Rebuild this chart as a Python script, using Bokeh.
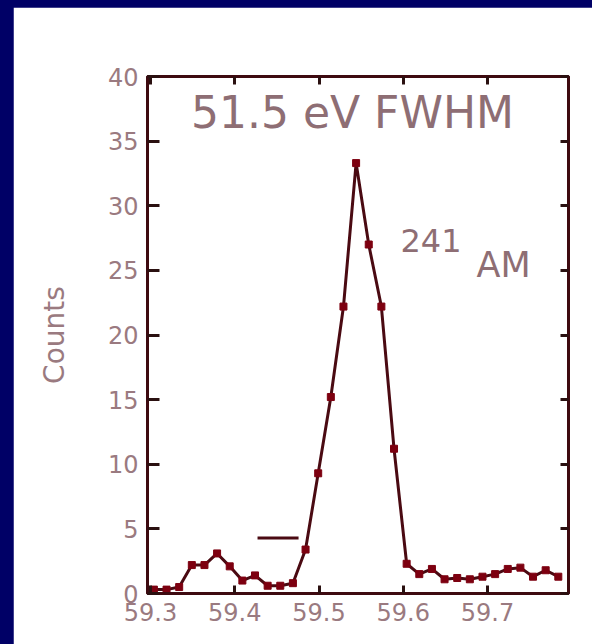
from bokeh.plotting import figure
from bokeh.models import Range1d, FixedTicker, LinearAxis, Column, CustomJSTickFormatter
from bokeh.core.properties import value
from bokeh.embed import file_html
from bokeh.resources import INLINE

# ---- data ----
energy_kev = [59.304, 59.319, 59.334, 59.349, 59.364, 59.379, 59.394, 59.409,
              59.424, 59.439, 59.454, 59.469, 59.484, 59.499, 59.514, 59.529,
              59.544, 59.559, 59.574, 59.589, 59.604, 59.619, 59.634, 59.649,
              59.664, 59.679, 59.694, 59.709, 59.724, 59.739, 59.754, 59.769,
              59.784]
counts = [0.3, 0.3, 0.5, 2.2, 2.2, 3.1, 2.1, 1.0,
          1.4, 0.6, 0.6, 0.8, 3.4, 9.3, 15.2, 22.2,
          33.3, 27.0, 22.2, 11.2, 2.3, 1.5, 1.9, 1.1,
          1.2, 1.1, 1.3, 1.5, 1.9, 2.0, 1.3, 1.8,
          1.3]
dash_x = [59.427, 59.4757]
dash_y = [4.3, 4.3]

x_ticks = [59.3, 59.4, 59.5, 59.6, 59.7]
x_tick_labels = {59.3: "59.3", 59.4: "59.4", 59.5: "59.5", 59.6: "59.6", 59.7: "59.7"}
y_ticks = [0, 5, 10, 15, 20, 25, 30, 35, 40]

title_text = "51.5 eV FWHM"
iso_mass = "241"
iso_name = "AM"
y_title = "Counts"

# ---- styling ----
FRAME = "#3e0a10"
LINE = "#4a0a12"
MARK = "#7d0010"
TXT = "#8e6e74"
FONT = "DejaVu Sans"

p = figure(width=579, height=637, output_backend="svg", toolbar_location=None,
           x_range=Range1d(59.2964, 59.7961), y_range=Range1d(0, 40),
           min_border_left=134, min_border_right=24, min_border_top=69,
           min_border_bottom=51, background_fill_color="white",
           border_fill_color="white", margin=(7, 0, 0, 13))
p.grid.visible = False
p.outline_line_color = FRAME
p.outline_line_width = 3

for ax in (p.xaxis[0], p.yaxis[0]):
    ax.axis_line_color = FRAME
    ax.axis_line_width = 3
    ax.major_tick_line_color = "#2a1010"
    ax.major_tick_line_width = 3
    ax.major_tick_out = 0
    ax.minor_tick_line_color = None
    ax.major_label_text_font = FONT
    ax.major_label_text_font_size = "24px"
    ax.major_label_text_color = "#9a7a80"

p.xaxis[0].ticker = FixedTicker(ticks=x_ticks)
p.xaxis[0].major_label_overrides = x_tick_labels
p.xaxis[0].major_tick_in = 8
p.xaxis[0].major_label_standoff = 9

p.yaxis[0].ticker = FixedTicker(ticks=y_ticks)
p.yaxis[0].major_tick_in = 12
p.yaxis[0].major_label_standoff = 9
p.yaxis[0].axis_label = y_title
p.yaxis[0].axis_label_text_font = FONT
p.yaxis[0].axis_label_text_font_size = "28px"
p.yaxis[0].axis_label_text_font_style = "normal"
p.yaxis[0].axis_label_text_color = "#9a7a80"
p.yaxis[0].axis_label_standoff = 34

blank = CustomJSTickFormatter(code="return ''")

# inner ticks on right and top (no labels)
right_ax = LinearAxis(ticker=FixedTicker(ticks=y_ticks), formatter=blank,
                      major_tick_in=8, major_tick_out=0, minor_tick_line_color=None,
                      axis_line_color=FRAME, axis_line_width=3,
                      major_tick_line_color="#2a1010", major_tick_line_width=3)
p.add_layout(right_ax, "right")
top_ax = LinearAxis(ticker=FixedTicker(ticks=x_ticks), formatter=blank,
                    major_tick_in=8, major_tick_out=0, minor_tick_line_color=None,
                    axis_line_color=FRAME, axis_line_width=3,
                    major_tick_line_color="#2a1010", major_tick_line_width=3)
p.add_layout(top_ax, "above")

# data
p.line(energy_kev, counts, line_color=LINE, line_width=3)
p.scatter(energy_kev, counts, marker="square", size=7, fill_color=MARK, line_color=MARK)
p.line(dash_x, dash_y, line_color=LINE, line_width=3)

# annotations
p.text(x=[59.5397], y=[37.2], text=[title_text], text_font=value(FONT),
       text_font_size="44px", text_color=TXT, text_align="center",
       text_baseline="alphabetic")
p.text(x=[59.5967], y=[27.3], text=[iso_mass], text_font=value(FONT),
       text_font_size="32px", text_color=TXT, text_align="left",
       text_baseline="alphabetic")
p.text(x=[59.6869], y=[25.45], text=[iso_name], text_font=value(FONT),
       text_font_size="35px", text_color=TXT, text_align="left",
       text_baseline="alphabetic")

root = Column(children=[p], width=592, height=644,
              styles={"background-color": "#000066"})

open("out.html", "w").write(file_html(root, INLINE))
